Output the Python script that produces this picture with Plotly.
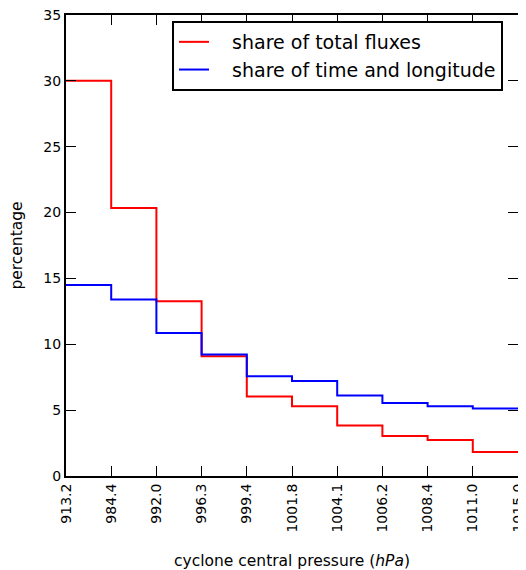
import plotly.graph_objects as go

tick_labels = ["913.2", "984.4", "992.0", "996.3", "999.4", "1001.8",
               "1004.1", "1006.2", "1008.4", "1011.0", "1015.0"]
share_fluxes = [30.0, 20.34, 13.27, 9.09, 6.04, 5.30, 3.84, 3.03, 2.73, 1.82]
share_time = [14.5, 13.4, 10.86, 9.22, 7.57, 7.22, 6.11, 5.55, 5.30, 5.13]
series_names = ["share of total fluxes", "share of time and longitude"]

edges = list(range(len(tick_labels)))
pad = "\u00a0" * 3

fig = go.Figure()
fig.add_trace(go.Scatter(x=edges, y=share_fluxes + [share_fluxes[-1]],
                         mode="lines", line=dict(color="#ff0000", width=2, shape="hv"),
                         name=pad + series_names[0]))
fig.add_trace(go.Scatter(x=edges, y=share_time + [share_time[-1]],
                         mode="lines", line=dict(color="#0000ff", width=2, shape="hv"),
                         name=pad + series_names[1]))

fig.update_layout(
    width=518, height=562,
    margin=dict(l=58, r=8, t=7, b=94, autoexpand=False),
    paper_bgcolor="white", plot_bgcolor="white",
    font=dict(family="DejaVu Sans", size=14, color="black"),
    showlegend=True,
    legend=dict(x=0.2345, y=0.987, xanchor="left", yanchor="top",
                bordercolor="black", borderwidth=2, bgcolor="white",
                font=dict(size=19), tracegroupgap=0, itemwidth=30),
    xaxis=dict(range=[0, 10], tickmode="array", tickvals=edges, ticktext=tick_labels,
               tickangle=-90, ticks="inside", ticklen=10, tickwidth=1, tickcolor="black",
               showline=True, linecolor="black", linewidth=2, mirror="ticks",
               showgrid=False, zeroline=False, automargin=False,
               ticklabeloverflow="allow",
               title=dict(text="cyclone central pressure (<i>hPa</i>)", font=dict(size=15.5), standoff=25)),
    yaxis=dict(range=[0, 35], tickmode="array", tickvals=[0, 5, 10, 15, 20, 25, 30, 35],
               ticks="inside", ticklen=10, tickwidth=1, tickcolor="black",
               showline=True, linecolor="black", linewidth=2, mirror="ticks",
               showgrid=False, zeroline=False, automargin=False,
               ticklabeloverflow="allow",
               title=dict(text="percentage", font=dict(size=15.5), standoff=18)),
)

fig.write_html("out.html")
